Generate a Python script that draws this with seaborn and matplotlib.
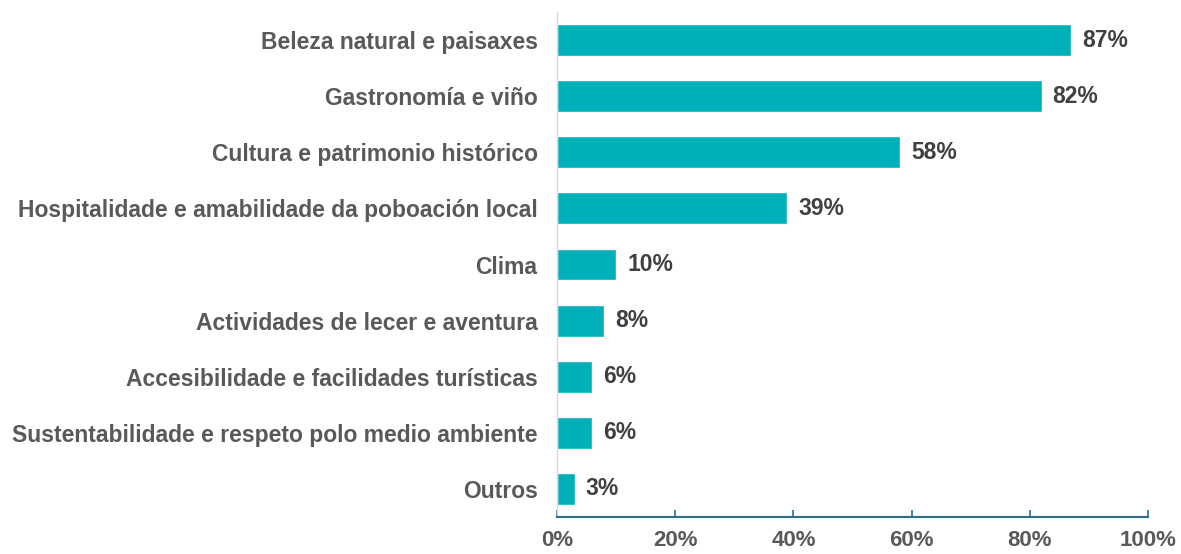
import matplotlib
matplotlib.use("Agg")
import matplotlib.pyplot as plt
import seaborn as sns
import pandas as pd

categories = [
    "Beleza natural e paisaxes",
    "Gastronomía e viño",
    "Cultura e patrimonio histórico",
    "Hospitalidade e amabilidade da poboación local",
    "Clima",
    "Actividades de lecer e aventura",
    "Accesibilidade e facilidades turísticas",
    "Sustentabilidade e respeto polo medio ambiente",
    "Outros",
]
values = [87, 82, 58, 39, 10, 8, 6, 6, 3]
xticks = [0, 20, 40, 60, 80, 100]
xtick_labels = ["0%", "20%", "40%", "60%", "80%", "100%"]

sns.set_style("white")
plt.rcParams["font.family"] = ["Liberation Sans", "DejaVu Sans"]

df = pd.DataFrame({"cat": categories, "val": values})

fig = plt.figure(figsize=(11.81, 5.54), dpi=100)
ax = fig.add_axes([557/1181, 1 - 517/554, (1148-557)/1181, (517-12)/554])

sns.barplot(data=df, x="val", y="cat", orient="h", color="#00B0B9",
            saturation=1, width=0.57, ax=ax)

ax.set_xlim(0, 100)
ax.set_ylim(8.5, -0.5)
ax.set_xlabel("")
ax.set_ylabel("")
ax.set_xticks(xticks)
ax.set_xticklabels(xtick_labels, fontsize=16, fontweight="bold", color="#595959")
ax.tick_params(axis="x", bottom=True, direction="in", length=5, width=1.2,
               color="#2E6F8E", pad=9)
ax.tick_params(axis="y", length=0, pad=14)
for lbl in ax.get_yticklabels():
    lbl.set_fontsize(16.5)
    lbl.set_fontweight("bold")
    lbl.set_color("#595959")

for s in ["top", "right"]:
    ax.spines[s].set_visible(False)
ax.spines["left"].set_color("#D9D9D9")
ax.spines["left"].set_linewidth(1)
ax.spines["bottom"].set_color("#2E6F8E")
ax.spines["bottom"].set_linewidth(1.5)

for i, v in enumerate(values):
    ax.annotate(f"{v}%", xy=(v, i), xytext=(8, 0), textcoords="offset points",
                va="center", ha="left", fontsize=16.5, fontweight="bold", color="#404040")

fig.savefig("out.png", dpi=100)
